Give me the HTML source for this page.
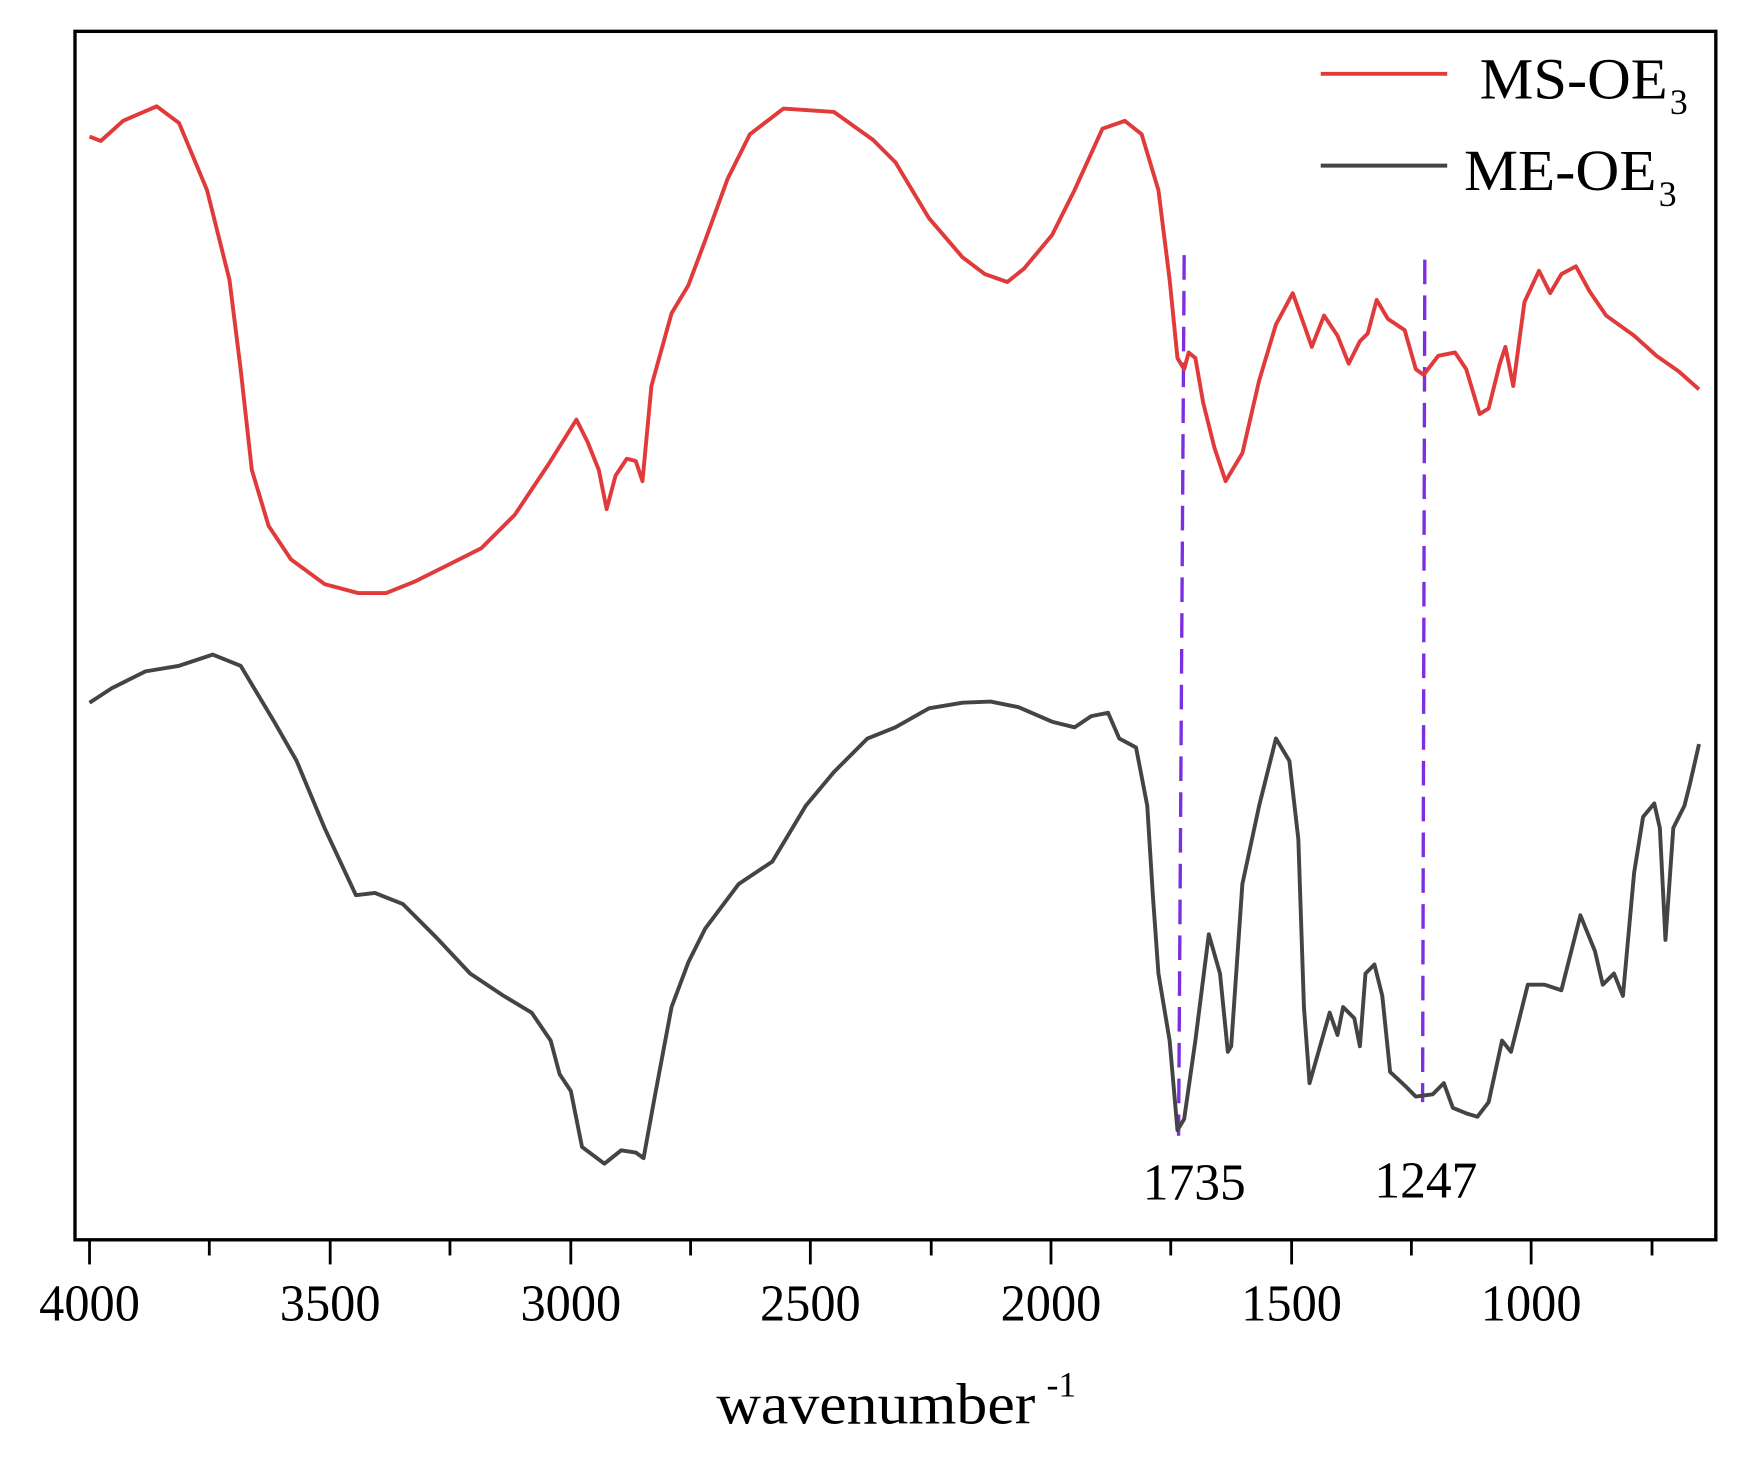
<!DOCTYPE html>
<html><head><meta charset="utf-8"><style>html,body{margin:0;padding:0;background:#fff}svg{display:block}</style></head>
<body>
<svg width="1755" height="1458" viewBox="0 0 1568 1303" preserveAspectRatio="none" xmlns="http://www.w3.org/2000/svg" font-family="Liberation Serif, serif">
<rect x="0" y="0" width="1568" height="1303" fill="#fff"/>
<rect x="67" y="28" width="1466" height="1080" fill="none" stroke="#000" stroke-width="3"/>
<g stroke="#000" stroke-width="2.5">
<line x1="80" y1="1108" x2="80" y2="1130"/><line x1="187" y1="1108" x2="187" y2="1122"/>
<line x1="295" y1="1108" x2="295" y2="1130"/><line x1="402" y1="1108" x2="402" y2="1122"/>
<line x1="510" y1="1108" x2="510" y2="1130"/><line x1="617" y1="1108" x2="617" y2="1122"/>
<line x1="724" y1="1108" x2="724" y2="1130"/><line x1="832" y1="1108" x2="832" y2="1122"/>
<line x1="939" y1="1108" x2="939" y2="1130"/><line x1="1046" y1="1108" x2="1046" y2="1122"/>
<line x1="1154" y1="1108" x2="1154" y2="1130"/><line x1="1261" y1="1108" x2="1261" y2="1122"/>
<line x1="1368" y1="1108" x2="1368" y2="1130"/><line x1="1476" y1="1108" x2="1476" y2="1122"/>
</g>
<g font-size="46" text-anchor="middle" fill="#000">
<text x="80" y="1180" textLength="90" lengthAdjust="spacingAndGlyphs">4000</text>
<text x="295" y="1180" textLength="90" lengthAdjust="spacingAndGlyphs">3500</text>
<text x="510" y="1180" textLength="90" lengthAdjust="spacingAndGlyphs">3000</text>
<text x="724" y="1180" textLength="90" lengthAdjust="spacingAndGlyphs">2500</text>
<text x="939" y="1180" textLength="90" lengthAdjust="spacingAndGlyphs">2000</text>
<text x="1154" y="1180" textLength="90" lengthAdjust="spacingAndGlyphs">1500</text>
<text x="1368" y="1180" textLength="90" lengthAdjust="spacingAndGlyphs">1000</text>
</g>
<text x="640" y="1272" font-size="52" textLength="285" lengthAdjust="spacingAndGlyphs">wavenumber</text>
<text x="935" y="1248" font-size="32">-1</text>
<g stroke="#7b2fe0" stroke-width="3" stroke-dasharray="22,10">
<line x1="1058" y1="228" x2="1053" y2="1015"/><line x1="1273" y1="232" x2="1271" y2="985"/>
</g>
<text x="1067" y="1072" font-size="46" text-anchor="middle" textLength="92" lengthAdjust="spacingAndGlyphs">1735</text>
<text x="1274" y="1070" font-size="46" text-anchor="middle" textLength="92" lengthAdjust="spacingAndGlyphs">1247</text>
<polyline fill="none" stroke="#e03a3a" stroke-width="3.5" stroke-linejoin="round" points="80,122 90,126 110,108 140,95 160,110 185,170 205,250 215,330 225,420 240,470 260,500 290,522 320,530 345,530 370,520 400,505 430,490 460,460 490,415 515,375 525,395 535,420 542,455 550,425 560,410 568,412 574,430 582,345 600,280 615,255 630,215 650,160 670,120 700,97 745,100 780,125 800,145 830,195 860,230 880,245 900,252 915,240 940,210 960,170 985,115 1005,108 1020,120 1035,170 1045,250 1052,320 1058,330 1062,315 1068,320 1075,360 1085,400 1095,430 1110,405 1125,340 1140,290 1155,262 1165,290 1172,310 1183,282 1195,300 1205,325 1215,305 1222,298 1230,268 1240,285 1255,295 1265,330 1272,335 1285,318 1300,315 1310,330 1322,370 1330,365 1340,325 1345,310 1352,345 1362,270 1375,242 1385,262 1395,245 1408,238 1420,260 1435,282 1460,300 1480,318 1500,332 1518,348"/>
<polyline fill="none" stroke="#444" stroke-width="3.5" stroke-linejoin="round" points="80,628 100,615 130,600 160,595 190,585 215,595 230,620 245,645 265,680 290,740 318,800 335,798 360,808 390,838 420,870 450,890 475,905 492,930 500,960 510,975 520,1025 540,1040 555,1028 568,1030 575,1035 585,980 600,900 615,860 630,830 660,790 690,770 720,720 745,690 775,660 800,650 830,633 860,628 885,627 910,632 940,645 960,650 975,640 990,637 1000,660 1015,668 1025,720 1030,800 1035,870 1045,930 1052,1010 1058,1000 1068,930 1080,835 1090,870 1097,940 1100,935 1110,790 1125,720 1130,700 1140,660 1152,680 1160,750 1165,900 1170,968 1178,940 1188,905 1195,925 1200,900 1210,910 1215,935 1220,870 1228,862 1235,890 1242,958 1255,970 1265,980 1280,978 1290,968 1298,990 1310,995 1320,998 1330,985 1342,930 1350,940 1365,880 1380,880 1395,885 1412,818 1425,850 1432,880 1442,870 1450,890 1460,780 1468,730 1478,718 1483,740 1488,840 1495,740 1505,720 1510,700 1518,665"/>
<line x1="1180" y1="66" x2="1293" y2="66" stroke="#e03a3a" stroke-width="3.5"/>
<line x1="1180" y1="148" x2="1293" y2="148" stroke="#444" stroke-width="3.5"/>
<text x="1322" y="88" font-size="52" textLength="168" lengthAdjust="spacingAndGlyphs">MS-OE</text>
<text x="1492" y="102" font-size="32">3</text>
<text x="1308" y="170" font-size="52" textLength="172" lengthAdjust="spacingAndGlyphs">ME-OE</text>
<text x="1482" y="184" font-size="32">3</text>
</svg>
</body></html>
